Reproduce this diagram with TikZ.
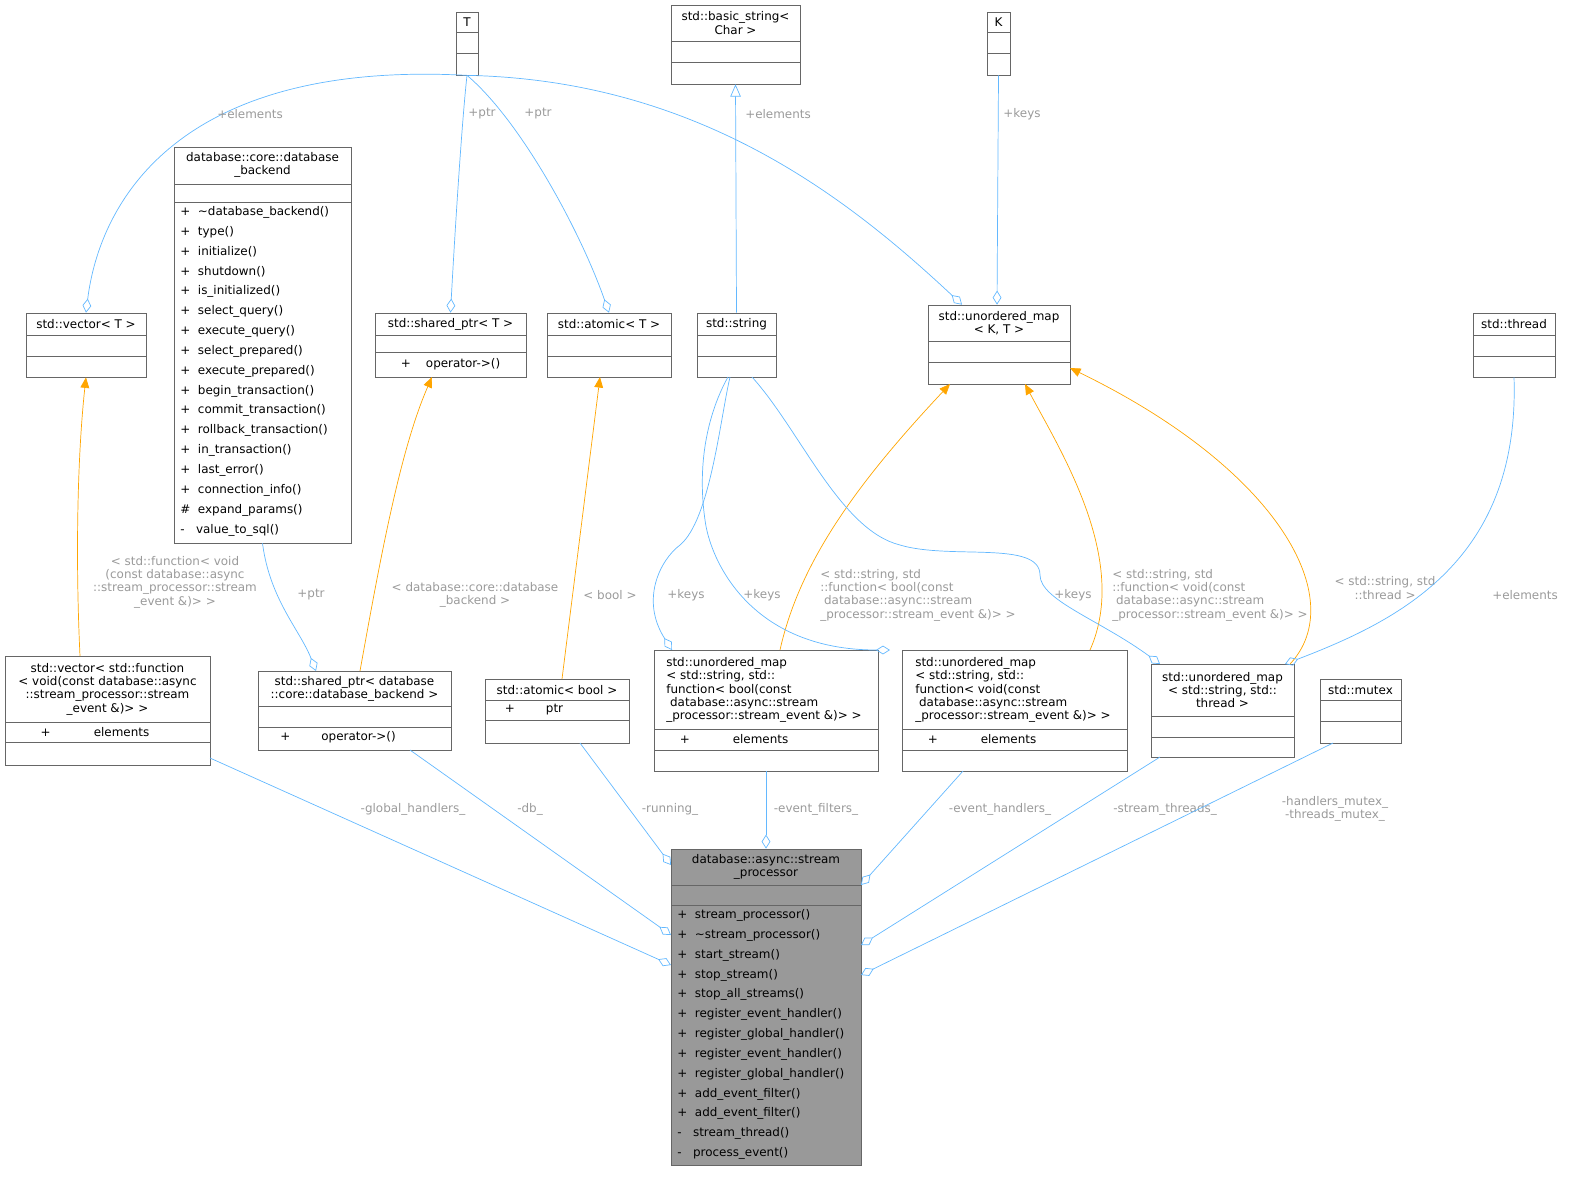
\documentclass[tikz,border=0pt]{standalone}
\usepackage{fontspec}
\setmainfont{DejaVu Sans}
\usetikzlibrary{arrows.meta,fit}
\definecolor{edgeblue}{HTML}{63B8FF}
\definecolor{edgeorange}{HTML}{FFA500}
\definecolor{lblgray}{HTML}{9A9A9A}
\definecolor{boxgray}{HTML}{999999}
\definecolor{boxline}{HTML}{666666}

% class box: [fill]{name}{x1}{y1}{x2}{y2}
\newcommand\clsbox[6][white]{\node[draw=boxline,fill=#1,inner sep=0pt,fit={(#3,#4)(#5,#6)}] (#2) {};}
\newcommand\clssep[3]{\draw[boxline] (#1,#3) -- (#2,#3);}

\tikzset{
  txt/.style={inner sep=0pt,align=center,font=\fontsize{6.8}{7.6}\selectfont},
  mlist/.style={inner sep=0pt,anchor=north west,align=left,font=\fontsize{6.8}{11.3}\selectfont},
  lbl/.style={inner sep=0pt,align=center,text=lblgray,font=\fontsize{6.8}{7.6}\selectfont},
  agg/.style={draw=edgeblue,{Diamond[open,length=8pt,width=5pt]}-},
  tmpl/.style={draw=edgeorange,-{Triangle[length=6pt,width=5pt]}},
  inh/.style={draw=edgeblue,-{Triangle[open,length=7pt,width=6pt]}}
}

\begin{document}
\begin{tikzpicture}[x=0.02cm,y=-0.02cm]

% top row
\clsbox{T}{456}{12}{478}{75}
\clssep{456}{478}{32}\clssep{456}{478}{53}
\node[txt] (tT) at (467,22) {T};

\clsbox{bstr}{671}{5}{800}{84}
\clssep{671}{800}{41}\clssep{671}{800}{62}
\node[txt] (tbstr) at (735.5,23) {std::basic\_string<\\Char >};

\clsbox{K}{987}{12}{1010}{75}
\clssep{987}{1010}{32}\clssep{987}{1010}{53}
\node[txt] (tK) at (998.5,22) {K};

% database backend
\clsbox{dbb}{174}{147}{351}{543}
\clssep{174}{351}{184}\clssep{174}{351}{202}
\node[txt] (tdbb) at (262.5,165) {database::core::database\\\_backend};
\node[mlist] (mdbb) at (180,206) {+~~\textasciitilde database\_backend()\\+~~type()\\+~~initialize()\\+~~shutdown()\\+~~is\_initialized()\\+~~select\_query()\\+~~execute\_query()\\+~~select\_prepared()\\+~~execute\_prepared()\\+~~begin\_transaction()\\+~~commit\_transaction()\\+~~rollback\_transaction()\\+~~in\_transaction()\\+~~last\_error()\\+~~connection\_info()\\\#~~expand\_params()\\-~~~value\_to\_sql()};

% middle row
\clsbox{vecT}{26}{313}{146}{377}
\clssep{26}{146}{335}\clssep{26}{146}{356}
\node[txt] (tvecT) at (86,324) {std::vector< T >};

\clsbox{shpT}{375}{313}{526}{377}
\clssep{375}{526}{335}\clssep{375}{526}{352}
\node[txt] (tshpT) at (450.5,324) {std::shared\_ptr< T >};
\node[txt] (mshpT) at (450.5,364) {+~~~~operator->()};

\clsbox{atmT}{547}{313}{671}{377}
\clssep{547}{671}{335}\clssep{547}{671}{356}
\node[txt] (tatmT) at (609,324) {std::atomic< T >};

\clsbox{str}{697}{313}{776}{377}
\clssep{697}{776}{335}\clssep{697}{776}{356}
\node[txt] (tstr) at (736.5,324) {std::string};

\clsbox{umKT}{928}{305}{1070}{384}
\clssep{928}{1070}{341}\clssep{928}{1070}{362}
\node[txt] (tumKT) at (999,323) {std::unordered\_map\\< K, T >};

\clsbox{thr}{1473}{313}{1555}{377}
\clssep{1473}{1555}{335}\clssep{1473}{1555}{356}
\node[txt] (tthr) at (1514,324) {std::thread};

% lower row
\clsbox{vecF}{5}{656}{210}{765}
\clssep{5}{210}{722}\clssep{5}{210}{742}
\node[txt] (tvecF) at (107.5,689) {std::vector< std::function\\< void(const database::async\\::stream\_processor::stream\\\_event \&)> >};
\node[txt] (avecF) at (95,732) {+\hspace{3.6em}elements};

\clsbox{shpD}{258}{671}{451}{750}
\clssep{258}{451}{706}\clssep{258}{451}{727}
\node[txt] (tshpD) at (354.5,689) {std::shared\_ptr< database\\::core::database\_backend >};
\node[txt] (mshpD) at (338,737) {+\hspace{2.6em}operator->()};

\clsbox{atmB}{485}{679}{629}{743}
\clssep{485}{629}{700}\clssep{485}{629}{720}
\node[txt] (tatmB) at (557,690) {std::atomic< bool >};
\node[txt] (aatmB) at (534,710) {+\hspace{2.6em}ptr};

\clsbox{umB}{654}{650}{878}{771}
\clssep{654}{878}{729}\clssep{654}{878}{750}
\node[txt,align=left] (tumB) at (764,690) {std::unordered\_map\\< std::string, std::\\function< bool(const\\~database::async::stream\\\_processor::stream\_event \&)> >};
\node[txt] (aumB) at (734,739) {+\hspace{3.6em}elements};

\clsbox{umV}{902}{650}{1127}{771}
\clssep{902}{1127}{729}\clssep{902}{1127}{750}
\node[txt,align=left] (tumV) at (1013,690) {std::unordered\_map\\< std::string, std::\\function< void(const\\~database::async::stream\\\_processor::stream\_event \&)> >};
\node[txt] (aumV) at (982,739) {+\hspace{3.6em}elements};

\clsbox{umT}{1151}{664}{1294}{757}
\clssep{1151}{1294}{716}\clssep{1151}{1294}{737}
\node[txt] (tumT) at (1222.5,690) {std::unordered\_map\\< std::string, std::\\thread >};

\clsbox{mtx}{1320}{679}{1401}{743}
\clssep{1320}{1401}{700}\clssep{1320}{1401}{721}
\node[txt] (tmtx) at (1360.5,690) {std::mutex};

% stream processor
\clsbox[boxgray]{sp}{671}{849}{861}{1165}
\clssep{671}{861}{885}\clssep{671}{861}{905}
\node[txt] (tsp) at (766,867) {database::async::stream\\\_processor};
\node[mlist] (msp) at (677,909) {+~~stream\_processor()\\+~~\textasciitilde stream\_processor()\\+~~start\_stream()\\+~~stop\_stream()\\+~~stop\_all\_streams()\\+~~register\_event\_handler()\\+~~register\_global\_handler()\\+~~register\_event\_handler()\\+~~register\_global\_handler()\\+~~add\_event\_filter()\\+~~add\_event\_filter()\\-~~~stream\_thread()\\-~~~process\_event()};

% edges from T and K
\draw[agg] (vecT.north) .. controls (100,200) and (180,60) .. (T.south);
\node[lbl] (l1) at (250,114) {+elements};
\draw[agg] (shpT.north) .. controls (455,230) and (462,120) .. (T.south);
\node[lbl] (l2) at (482,114) {+ptr};
\draw[agg] (atmT.north) .. controls (580,230) and (520,120) .. (T.south);
\node[lbl] (l3) at (538,114) {+ptr};
\draw[agg] ([xshift=-37*0.02cm]umKT.north) .. controls (850,200) and (700,80) .. (T.south);
\node[lbl] (l4) at (778,114) {+elements};
\draw[inh] (str.north) -- (bstr.south);
\draw[agg] ([xshift=-2*0.02cm]umKT.north) -- (K.south);
\node[lbl] (l5) at (1022,114) {+keys};

% template instances
\draw[tmpl] (80,656) .. controls (75,550) and (78,450) .. (vecT.south);
\node[lbl] (l6) at (175,582) {< std::function< void\\(const database::async\\::stream\_processor::stream\\\_event \&)> >};
\draw[tmpl] (360,671) .. controls (380,560) and (400,450) .. (432,377);
\node[lbl] (l7) at (475,595) {< database::core::database\\\_backend >};
\draw[tmpl] (562,679) -- (600,377);
\node[lbl] (l8) at (610,595) {< bool >};
\draw[tmpl] (780,650) .. controls (800,560) and (860,480) .. (950,384);
\node[lbl,align=left] (l9) at (918,595) {< std::string, std\\::function< bool(const\\~database::async::stream\\\_processor::stream\_event \&)> >};
\draw[tmpl] (1090,650) .. controls (1130,560) and (1060,450) .. (1025,384);
\node[lbl,align=left] (l10) at (1210,595) {< std::string, std\\::function< void(const\\~database::async::stream\\\_processor::stream\_event \&)> >};
\draw[tmpl] (1290,664) .. controls (1350,600) and (1280,470) .. (1070,368);
\node[lbl] (l11) at (1385,588) {< std::string, std\\::thread >};

% aggregations on the lower row
\draw[agg] (316,671) .. controls (300,630) and (270,600) .. (dbb.south);
\node[lbl] (l12) at (311,595) {+ptr};
\draw[agg] (672,650) .. controls (640,600) and (660,560) .. (680,545) .. controls (710,520) and (720,420) .. (730,377);
\node[lbl] (l13) at (686,595) {+keys};
\draw[agg] (890,650) .. controls (750,650) and (710,560) .. (705,520) .. controls (695,450) and (715,400) .. (728,377);
\node[lbl] (l14) at (762,595) {+keys};
\draw[agg] (1160,664) .. controls (1100,620) and (1040,600) .. (1040,575) .. controls (1040,540) and (950,560) .. (900,545) .. controls (840,530) and (800,430) .. (752,377);
\node[lbl] (l15) at (1073,595) {+keys};
\draw[agg] (1285,664) .. controls (1400,620) and (1520,560) .. (thr.south);
\node[lbl] (l16) at (1525,595) {+elements};

% aggregations into the stream processor
\draw[agg] (671,965) -- (210,758);
\node[lbl] (l17) at (413,809) {-global\_handlers\_};
\draw[agg] (671,935) -- (410,750);
\node[lbl] (l18) at (530,809) {-db\_};
\draw[agg] (671,865) -- (580,743);
\node[lbl] (l19) at (670,809) {-running\_};
\draw[agg] (sp.north) -- (umB.south);
\node[lbl] (l20) at (816,809) {-event\_filters\_};
\draw[agg] (861,885) -- (963,771);
\node[lbl] (l21) at (1000,809) {-event\_handlers\_};
\draw[agg] (861,945) -- (1160,757);
\node[lbl] (l22) at (1165,809) {-stream\_threads\_};
\draw[agg] (861,975) -- (1333,743);
\node[lbl] (l23) at (1335,809) {-handlers\_mutex\_\\-threads\_mutex\_};

\pgfresetboundingbox
\path[use as bounding box] (0,0) rectangle (1581,1181);
\end{tikzpicture}
\end{document}
